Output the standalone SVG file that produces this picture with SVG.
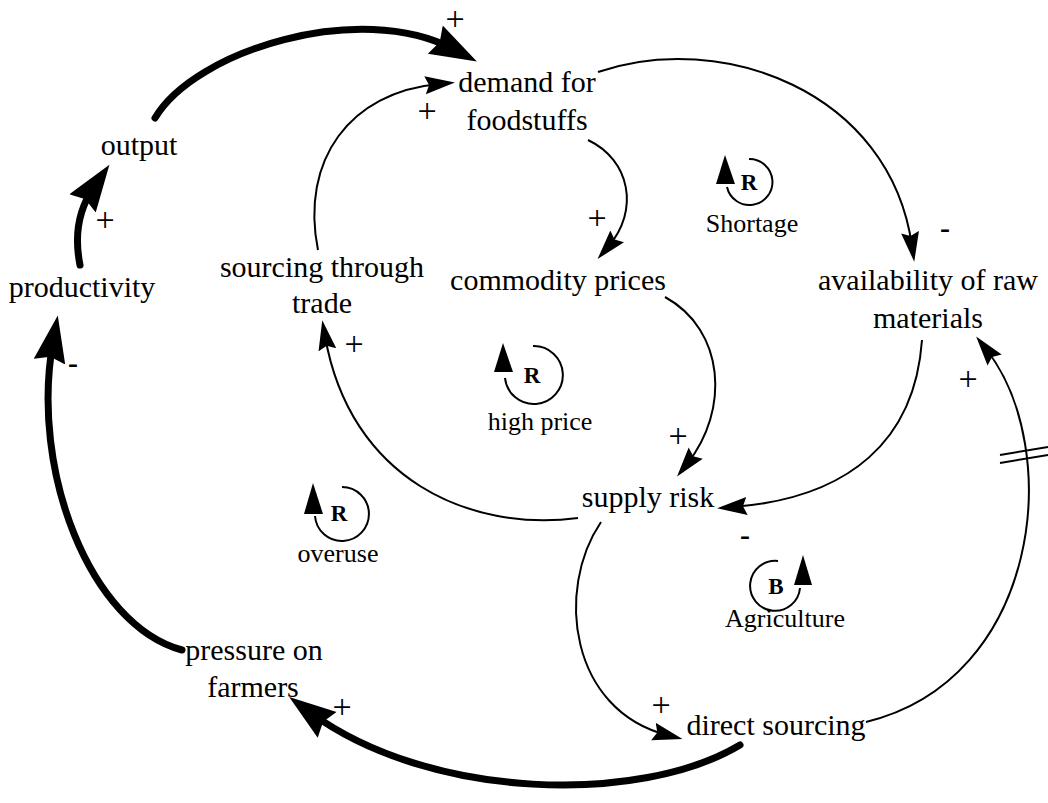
<svg xmlns="http://www.w3.org/2000/svg" width="1048" height="803" viewBox="0 0 1048 803">
  <style>
    text { font-family: 'Liberation Serif', 'Times New Roman', 'DejaVu Serif', serif; fill: #000; text-anchor: middle; }
    .lbl { font-size: 30px; }
    .loop { font-size: 26px; }
    .sym { font-size: 34px; }
    .neg { font-size: 30px; font-weight: bold; }
    .tag { font-size: 23px; font-weight: bold; }
    .thin { fill: none; stroke: #000; stroke-width: 2; }
    .thick { fill: none; stroke: #000; stroke-width: 7; stroke-linecap: round; }
    .ring { fill: none; stroke: #000; stroke-width: 2; }
  </style>
  <defs>
    <marker id="ahThin" markerUnits="userSpaceOnUse" markerWidth="32" markerHeight="20" refX="14" refY="9" orient="auto">
      <path d="M0,0 L30,9 L0,18 L4,9 Z" fill="#000"/>
    </marker>
    <marker id="ahThick" markerUnits="userSpaceOnUse" markerWidth="48" markerHeight="34" refX="20" refY="16" orient="auto">
      <path d="M0,0 L47,16 L0,32 L5,16 Z" fill="#000"/>
    </marker>
  </defs>

  <!-- causal links -->
  <g id="connectors">
    <path id="e-output-demand" class="thick" d="M155,118 C195,50 360,0 453,49" marker-end="url(#ahThick)"/>
    <path id="e-trade-demand" class="thin" d="M318,250 C300,160 350,92 439,84" marker-end="url(#ahThin)"/>
    <path id="e-demand-prices" class="thin" d="M588,140 C630,160 640,210 608,247" marker-end="url(#ahThin)"/>
    <path id="e-demand-avail" class="thin" d="M598,72 C720,30 890,90 912,246" marker-end="url(#ahThin)"/>
    <path id="e-prices-risk" class="thin" d="M665,297 C725,330 730,410 687,464" marker-end="url(#ahThin)"/>
    <path id="e-avail-risk" class="thin" d="M922,340 C915,440 850,498 733,507" marker-end="url(#ahThin)"/>
    <path id="e-risk-trade" class="thin" d="M578,518 C470,532 350,480 325,336" marker-end="url(#ahThin)"/>
    <path id="e-risk-direct" class="thin" d="M601,522 C555,590 570,710 667,735" marker-end="url(#ahThin)"/>
    <path id="e-direct-avail" class="thin" d="M866,722 C1040,680 1065,450 986,349" marker-end="url(#ahThin)"/>
    <!-- delay mark -->
    <path class="thin" d="M1000,455 L1048,447 M1000,463 L1048,455"/>
    <path id="e-direct-pressure" class="thick" d="M740,745 C640,805 430,800 311,713" marker-end="url(#ahThick)"/>
    <path id="e-pressure-productivity" class="thick" d="M182,650 C90,625 30,470 53,342" marker-end="url(#ahThick)"/>
    <path id="e-productivity-output" class="thick" d="M80,265 C74,235 78,210 94,187" marker-end="url(#ahThick)"/>
  </g>

  <!-- polarity signs -->
  <g id="polarities">
    <text class="sym" x="455" y="30">+</text>
    <text class="sym" x="427" y="122">+</text>
    <text class="sym" x="105" y="231">+</text>
    <text class="sym" x="597" y="229">+</text>
    <text class="sym" x="354" y="355">+</text>
    <text class="sym" x="678" y="447">+</text>
    <text class="sym" x="661" y="716">+</text>
    <text class="sym" x="342" y="718">+</text>
    <text class="sym" x="968" y="390">+</text>
    <text class="neg" x="945" y="238">-</text>
    <text class="neg" x="73" y="373">-</text>
    <text class="neg" x="745" y="545">-</text>
  </g>

  <!-- variables -->
  <g id="n-demand"><text class="lbl" x="527" y="92">demand for</text><text class="lbl" x="527" y="130">foodstuffs</text></g>
  <g id="n-output"><text class="lbl" x="139" y="155">output</text></g>
  <g id="n-productivity"><text class="lbl" x="82" y="297">productivity</text></g>
  <g id="n-trade"><text class="lbl" x="322" y="277">sourcing through</text><text class="lbl" x="322" y="313">trade</text></g>
  <g id="n-prices"><text class="lbl" x="558" y="290">commodity prices</text></g>
  <g id="n-avail"><text class="lbl" x="928" y="290">availability of raw</text><text class="lbl" x="928" y="328">materials</text></g>
  <g id="n-risk"><text class="lbl" x="648" y="507">supply risk</text></g>
  <g id="n-pressure"><text class="lbl" x="254" y="660">pressure on</text><text class="lbl" x="253" y="697">farmers</text></g>
  <g id="n-direct"><text class="lbl" x="776" y="735">direct sourcing</text></g>

  <!-- loop identifiers -->
  <g id="loop-shortage">
    <path class="ring" d="M749,159 A23,23 0 1 1 727,187"/>
    <polygon points="725,155 716,184 735,184" fill="#000"/>
    <text class="tag" x="749" y="190">R</text>
    <text class="loop" x="752" y="232">Shortage</text>
  </g>
  <g id="loop-highprice">
    <path class="ring" d="M533,346 A29,29 0 1 1 505,378"/>
    <polygon points="503,343 494,372 513,372" fill="#000"/>
    <text class="tag" x="532" y="383">R</text>
    <text class="loop" x="540" y="430">high price</text>
  </g>
  <g id="loop-overuse">
    <path class="ring" d="M342,487 A27,27 0 1 1 315,516"/>
    <polygon points="313,483 304,514 323,514" fill="#000"/>
    <text class="tag" x="339" y="521">R</text>
    <text class="loop" x="338" y="562">overuse</text>
  </g>
  <g id="loop-agriculture">
    <path class="ring" d="M778,561 A25,25 0 1 0 800,588"/>
    <polygon points="803,555 794,585 812,585" fill="#000"/>
    <text class="tag" x="776" y="594">B</text>
    <text class="loop" x="785" y="627">Agriculture</text>
  </g>
</svg>
